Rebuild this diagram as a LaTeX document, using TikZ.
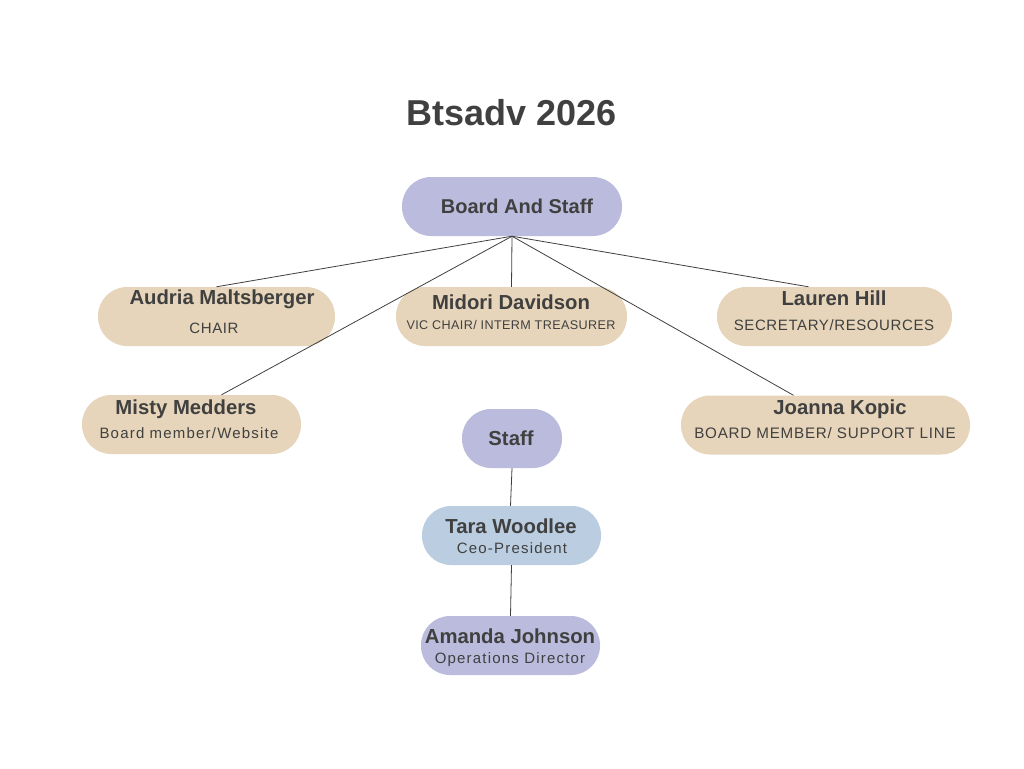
\documentclass[tikz,border=0pt]{standalone}
\usepackage{fontspec}
\setmainfont{Liberation Sans}
\usetikzlibrary{calc}
\definecolor{lav}{HTML}{BBBBDD}
\definecolor{sand}{HTML}{E6D5BA}
\definecolor{sky}{HTML}{BBCDE0}
\definecolor{ink}{HTML}{404040}
\begin{document}
\begin{tikzpicture}[x=1pt,y=-1pt,
  pill/.style={rounded corners=29pt, minimum height=59pt, inner sep=0pt},
  nm/.style={font=\bfseries\fontsize{20.3}{20}\selectfont, text=ink, inner sep=0pt},
  rl/.style={font=\addfontfeature{LetterSpace=4}\fontsize{15}{15}\selectfont, text=ink, inner sep=0pt},
  rlw/.style={font=\addfontfeature{LetterSpace=8}\fontsize{15}{15}\selectfont, text=ink, inner sep=0pt},
  link/.style={draw=ink, line width=0.8pt}]
\fill[white] (0,0) rectangle (1024,768);
\useasboundingbox (0,0) rectangle (1024,768);
\node[font=\bfseries\fontsize{36}{36}\selectfont, text=ink] (title) at (512,113) {Btsadv 2026};

\node[pill, fill=lav, minimum width=220pt] (board) at (512,206.5) {};
\node[nm, font=\bfseries\fontsize{20}{20}\selectfont] (boardt) at (517,206) {Board And Staff};

\node[pill, fill=sand, minimum width=237pt] (audria) at (216.5,316.5) {};
\node[nm] (audrian) at (222,299) {Audria Maltsberger};
\node[rl] (audriar) at (214,328) {CHAIR};

\node[pill, fill=sand, minimum width=231pt] (midori) at (511.5,316.5) {};
\node[nm] (midorin) at (511,302) {Midori Davidson};
\node[rl, font=\addfontfeature{LetterSpace=3}\fontsize{12.6}{13}\selectfont] (midorir) at (511,325) {VIC CHAIR/ INTERM TREASURER};

\node[pill, fill=sand, minimum width=235pt] (lauren) at (834.5,316.5) {};
\node[nm] (laurenn) at (834,298) {Lauren Hill};
\node[rl] (laurenr) at (834,325) {SECRETARY/RESOURCES};

\node[pill, fill=sand, minimum width=219pt] (misty) at (191.5,424.5) {};
\node[nm] (mistyn) at (186,409) {Misty Medders};
\node[rlw] (mistyr) at (189,433) {Board member/Website};

\node[pill, fill=sand, minimum width=289pt] (joanna) at (825.5,425) {};
\node[nm] (joannan) at (840,409) {Joanna Kopic};
\node[rl, font=\addfontfeature{LetterSpace=5}\fontsize{15.2}{15}\selectfont] (joannar) at (825,433) {BOARD MEMBER/ SUPPORT LINE};

\node[pill, fill=lav, minimum width=100pt] (staff) at (512,438.5) {};
\node[nm] (stafft) at (511,438) {Staff};

\node[pill, fill=sky, minimum width=179pt] (tara) at (511.5,535.5) {};
\node[nm] (taran) at (511,526) {Tara Woodlee};
\node[rlw] (tarar) at (512,548) {Ceo-President};

\node[pill, fill=lav, minimum width=179pt] (amanda) at (510.5,645.5) {};
\node[nm] (amandan) at (510,636) {Amanda Johnson};
\node[rlw] (amandar) at (510,660) {Operations Director};

\draw[link] (board.south) -- (audria.north);
\draw[link] (board.south) -- (midori.north);
\draw[link] (board.south) -- ([xshift=-26pt]lauren.north);
\draw[link] (board.south) -- ([xshift=30pt]misty.north);
\draw[link] (board.south) -- ([xshift=-32pt]joanna.north);
\draw[link] (staff.south) -- ([xshift=-1pt]tara.north);
\draw[link] (tara.south) -- (amanda.north);
\end{tikzpicture}
\end{document}
